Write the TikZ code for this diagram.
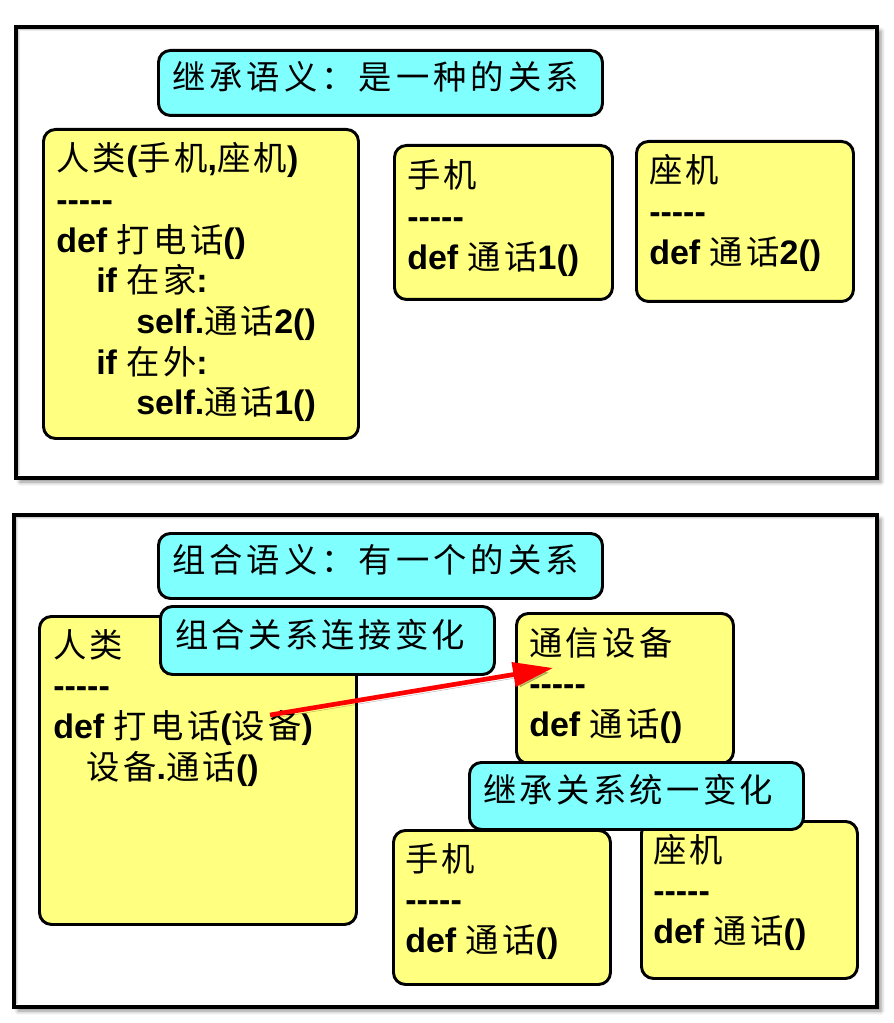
\documentclass[tikz,border=0pt]{standalone}
\usepackage{fontspec}
\setmainfont{Liberation Sans}
\newfontfamily\zhfont{Noto Sans CJK SC}[LetterSpace=10]
\newfontfamily\zhtitle{Noto Sans CJK SC}[LetterSpace=12]
\usetikzlibrary{arrows.meta,shadows.blur}
\definecolor{noteyellow}{RGB}{255,255,128}
\definecolor{notecyan}{RGB}{128,255,255}
\definecolor{arrowred}{RGB}{255,0,0}
% Chinese runs inside bold Latin code text
\newcommand\zh[1]{{\zhfont\mdseries\fontsize{25}{30.5}\selectfont #1}}
\newcommand\zht[1]{{\zhtitle\mdseries\fontsize{25}{30.5}\selectfont #1}}
\newcommand\codefont{\fontsize{25.5}{30.5}\selectfont\bfseries}
% separator line of five hyphens (kerns keep them from becoming dashes)
\newcommand\sepline{-\kern0pt-\kern0pt-\kern0pt-\kern0pt-}
% left-aligned lines, baseline on the first line
\newcommand\lines[1]{\vtop{\baselineskip=30.5pt\lineskiplimit=-100pt\lineskip=0pt
  \halign{##\hfil\cr#1\crcr}}}
% rounded note box given by its top-left and bottom-right corners (pixel units)
\newcommand\notebox[6]{%
  \node[#1, minimum width={(#5-#3)*0.75pt}, minimum height={(#6-#4)*0.75pt},
        anchor=north west] (#2) at (#3,#4) {};}
% soft inner shade along the top and left inside edges of a frame
\newcommand\innershade[1]{%
  \foreach \d/\o in {2.6pt/0.30,3.4pt/0.18,4.2pt/0.08}{
    \draw[black, opacity=\o, line width=0.8pt]
      ([shift={(\d,4pt)}]#1.south west) -- ([shift={(\d,-\d)}]#1.north west)
      -- ([shift={(-4pt,-\d)}]#1.north east);}}
\begin{document}
\begin{tikzpicture}[x=0.75pt,y=-0.75pt,
  frame/.style={draw=black, line width=3pt, fill=white, inner sep=0pt,
    blur shadow={shadow xshift=3pt, shadow yshift=-3pt, shadow blur radius=3pt, shadow opacity=45}},
  ybox/.style={draw=black, fill=noteyellow, line width=2.2pt, rounded corners=9pt, inner sep=0pt},
  cbox/.style={draw=black, fill=notecyan, line width=2.2pt, rounded corners=9pt, inner sep=0pt},
  code/.style={anchor=base west, inner sep=0pt, font=\codefont},
  link/.style={draw=arrowred, line width=3.5pt, -{Triangle[length=30pt,width=18pt]},
    preaction={draw=black, opacity=0.25, transform canvas={shift={(2pt,-2.5pt)}}}}]
\useasboundingbox (0,0) rectangle (893,1023);

% ---------- inheritance panel ----------
\node[frame, minimum width={861*0.75pt}, minimum height={451*0.75pt}, anchor=north west]
  (inhframe) at (14,25) {};
\innershade{inhframe}
\notebox{cbox}{t1}{157}{49}{601}{114}
\node[code] (t1txt) at (172,90) {\zht{继承语义：是一种的关系}};

\notebox{ybox}{p1}{42}{128}{357}{437}
\node[code] (p1txt) at (56,171) {\lines{%
  \zh{人类}(\zh{手机},\zh{座机})\cr
  \sepline\cr
  def \zh{打电话}()\cr
  \hspace*{30pt}if \zh{在家}:\cr
  \hspace*{60pt}self.\zh{通话}2()\cr
  \hspace*{30pt}if \zh{在外}:\cr
  \hspace*{60pt}self.\zh{通话}1()}};

\notebox{ybox}{m1}{393}{144}{611}{298}
\node[code] (m1txt) at (407,188) {\lines{\zh{手机}\cr\sepline\cr def \zh{通话}1()}};

\notebox{ybox}{z1}{635}{140}{852}{300}
\node[code] (z1txt) at (649,183) {\lines{\zh{座机}\cr\sepline\cr def \zh{通话}2()}};

% ---------- composition panel ----------
\node[frame, minimum width={863*0.75pt}, minimum height={492*0.75pt}, anchor=north west]
  (compframe) at (12,513) {};
\innershade{compframe}
\notebox{cbox}{t2}{157}{532}{601}{597}
\node[code] (t2txt) at (172,572) {\zht{组合语义：有一个的关系}};

\notebox{ybox}{p2}{38}{615}{355}{923}
\node[code] (p2txt) at (53,657) {\lines{%
  \zh{人类}\cr
  \sepline\cr
  def \zh{打电话}(\zh{设备})\cr
  \hspace*{25pt}\zh{设备}.\zh{通话}()}};

\notebox{cbox}{c2}{159}{605}{493}{673}
\node[code] (c2txt) at (175,647) {\zh{组合关系连接变化}};

\notebox{ybox}{d2}{515}{612}{732}{762}
\node[code] (d2txt) at (529,655) {\lines{\zh{通信设备}\cr\sepline\cr def \zh{通话}()}};

\notebox{ybox}{m2}{392}{829}{609}{983}
\node[code] (m2txt) at (405,871) {\lines{\zh{手机}\cr\sepline\cr def \zh{通话}()}};

\notebox{ybox}{z2}{640}{820}{856}{977}
\node[code] (z2txt) at (653,862) {\lines{\zh{座机}\cr\sepline\cr def \zh{通话}()}};

\notebox{cbox}{i2}{468}{761}{802}{828}
\node[code] (i2txt) at (483,802) {\zh{继承关系统一变化}};

% the call on the device parameter goes to the device class
\coordinate (callsite) at (270,715);
\coordinate (devicetip) at (553,668);
\draw[link] (callsite) -- (devicetip);
\end{tikzpicture}
\end{document}
